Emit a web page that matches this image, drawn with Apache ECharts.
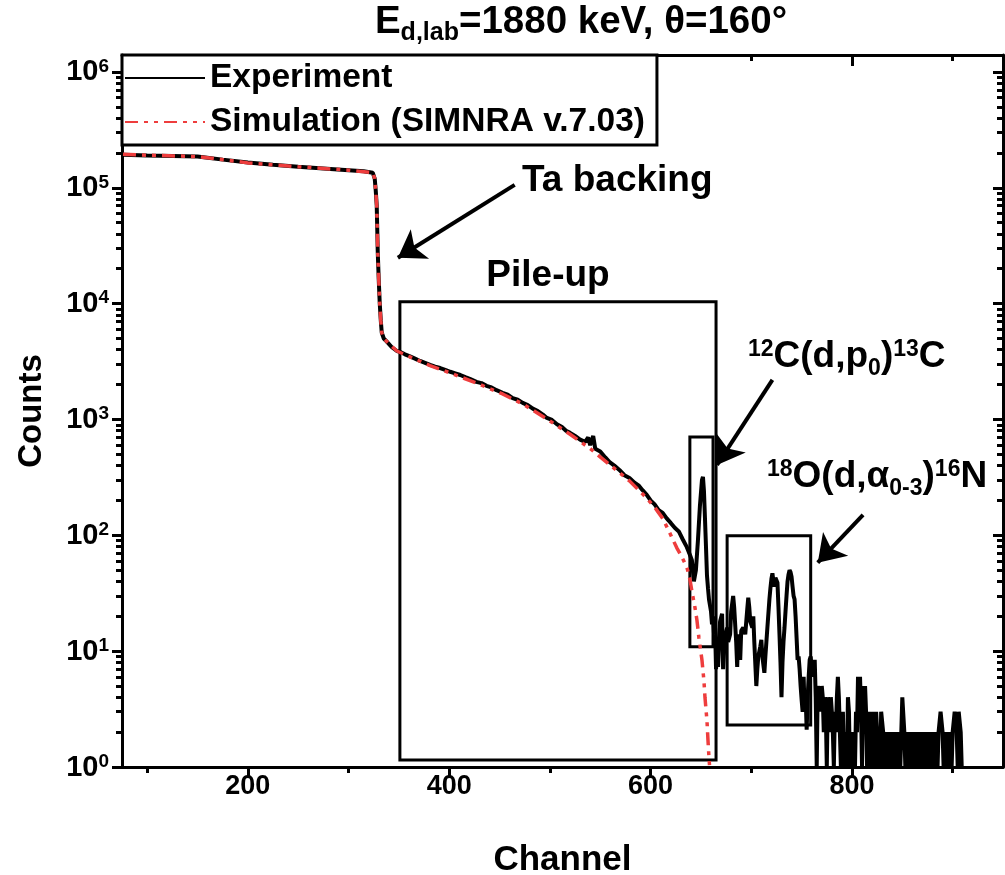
<!DOCTYPE html>
<html><head><meta charset="utf-8">
<script src="https://cdn.jsdelivr.net/npm/echarts@6/dist/echarts.min.js"></script>
<style>html,body{margin:0;padding:0;background:#fff}#c{width:1005px;height:875px}</style>
</head><body><div id="c"></div>
<script>
// ---------------- data ----------------
const expChannels = [
  76,100,125,150,175,200,225,250,275,300,315,324,326,327,328,329,330,331,332,333,335,338,343,348,
  351,356,361,366,371,376,381,386,391,396,401,406,411,416,421,427,432,437,442,447,453,458,463,468,473,478,483,488,493,497,
  502,507,512,516,520,525,530,535,538,540,543,545,550,555,559,564,569,574,579,584,588,592,596,600,604,608,612,616,620,624,628,632,636,639,
  641,643,645,647,649,651,652,653,654,655,656,657,658,660,661,662,663,664,665,666,667,668,669,671,672,673,674,676,677,679,680,682,683,685,686,687,689,690,692,694,696,697,698,699,701,702,703,705,706,707,709,710,711,713,714,715,716,718,719,720,721,722,723,724,725,726,727,728,729,730,731,732,733,734,735,736,737,738,739,740,741,742,743,744,745,746,747,748,749,750,751,752,753,754,755,756,757,758,759,760,761,762,763,764,
  765,766,767,768,769,770,771,772,773,774,775,776,777,778,779,780,781,782,783,784,785,786,787,788,789,790,791,792,793,794,795,796,797,798,799,800,
  801,802,803,804,805,806,807,808,809,810,811,812,813,814,815,816,817,818,819,820,821,822,823,824,825,826,827,828,829,830,831,832,833,834,835,836,837,838,839,840,
  841,842,843,844,845,846,847,848,849,850,851,852,853,854,855,856,857,858,859,860,861,862,863,864,865,866,867,868,869,870,871,872,873,874,875,876,877,878,879,880,
  881,882,883,884,885,886,887,888,889,890,891,892,893,894,895,896,897,898,899,900,901,902,903,904,905,906,907,908,909,910
];
const expCounts = [
  193000,190000,188000,186000,175000,165000,158000,152000,147000,142000,139000,135000,120000,95000,70000,28000,16000,10000,7200,5600,5000,4700,4200,3900,
  3840,3650,3500,3350,3200,3080,2960,2860,2780,2680,2580,2500,2420,2320,2230,2110,2060,1950,1890,1790,1700,1640,1530,1480,1390,1330,1240,1180,1100,1030,
  990,910,860,800,766,720,670,640,700,600,720,560,530,470,430,400,367,330,313,285,270,245,225,200,185,165,156,140,128,116,108,92,79,68,
  61,40,50,90,180,300,320,240,140,80,45,35,28,22,17,20,14,16,7,10,7.3,12,18,21,7,10,13,16,12,14,22,30,24,12,7.3,14,8.4,15,16,14,23,29,24,18,16,20,12,5,7,9,11,12.5,9,6.5,9,12,16,28,35,42,47,40,36,43,41,39,24,14,8,4,8,12,16,22,30,40,46,50,48,44,36,30,28,20,13,8.4,9,7,5,3.8,3,6,3,4,2.1,4,6,8.4,9,7,8,6,8.4,4,
  1,5,5,4,3,5,4,2,4,3,1,4,3,2,4,3,2,1,3,2,4,6,4,2,1,2,3,1,2,2,1,4,3,1,2,1,
  2,2,1,3,2,6,5,6,3,1,5,2,5,3,1,2,3,3,1,2,3,2,1,3,2,1,2,1,3,3,2,1,2,2,1,2,1,2,2,1,
  2,1,2,2,1,2,2,1,2,4,4,2,1,2,2,1,1,2,1,2,2,1,2,1,2,2,1,1,2,1,1,2,1,2,1,2,1,2,2,1,
  1,2,1,2,1,2,2,3,3,2,1,2,2,1,2,2,1,2,1,2,2,3,3,2,1,3,3,2,1,1
];
const simChannels = [76,100,150,200,250,300,324,326,327,328,329,330,331,332,333,335,338,348,360,381,401,427,453,473,497,520,540,559,579,596,604,612,619,626,631,636,639,641,644,646,648,651,653,654,656,657,658,659];
const simCounts = [195000,191000,186000,164000,152000,142000,135000,120000,95000,70000,28000,16000,10000,7200,5600,5000,4700,3900,3500,2920,2520,2060,1660,1360,1010,745,560,410,295,210,175,140,105,78,65,53,42,33,24,18.6,13,8.4,5.5,4,2.5,1.7,1.2,0.9];

const xMajorTicks = [200,400,600,800];
const xMinorTicks = [100,300,500,700,900];
const yMajorTicks = [1,10,100,1000,10000,100000,1000000];
const yMinorTicks = [2,3,4,5,6,7,8,9,20,30,40,50,60,70,80,90,200,300,400,500,600,700,800,900,
  2000,3000,4000,5000,6000,7000,8000,9000,20000,30000,40000,50000,60000,70000,80000,90000,
  200000,300000,400000,500000,600000,700000,800000,900000];

// annotation boxes [ch1, count1, ch2, count2]
const boxPileUp = [351, 10400, 665, 1.15];
const boxC12 = [639, 707, 662, 10.9];
const boxO18 = [676, 99, 759, 2.3];
// arrows [tailCh, tailCount, tipCh, tipCount]
const arrowTa = [465, 106000, 349, 24900];
const arrowC12 = [721, 2200, 666, 405];
const arrowO18 = [811, 150, 766, 58];

// ---------------- chart ----------------
const FONT = "'Liberation Sans', Arial, sans-serif";
const X_MIN = 75, X_MAX = 950, Y_MIN = 1, Y_MAX = 1.4e6;

const expData = expChannels.map((c, i) => [c, expCounts[i]]);
const simData = simChannels.map((c, i) => [c, simCounts[i]]);

const lineBlack = {show: true, onZero: false, lineStyle: {color: '#000', width: 3}};
const noLine = {show: false};

function tick(len, inside, values) {
  return {show: true, inside: inside, length: len, customValues: values, lineStyle: {color: '#000', width: 3}};
}
function yLabelFmt(v) {
  const e = Math.round(Math.log10(v));
  return '{b|10}{s|' + e + '}';
}

const chart = echarts.init(document.getElementById('c'), null, {renderer: 'canvas'});
const option = {
  animation: false,
  backgroundColor: '#fff',
  grid: {left: 122, right: 2, top: 55, bottom: 108, containLabel: false, outerBoundsMode: 'none'},
  legend: {
    orient: 'vertical', left: 122, top: 55,
    itemWidth: 80, itemHeight: 14, itemGap: 10,
    padding: [6, 12, 6, 2],
    borderColor: '#000', borderWidth: 3, backgroundColor: '#fff',
    itemStyle: {opacity: 0},
    textStyle: {fontSize: 33.5, fontWeight: 'bold', color: '#000', fontFamily: FONT},
    data: ['Experiment', 'Simulation (SIMNRA v.7.03)']
  },
  xAxis: [
    {type: 'value', min: X_MIN, max: X_MAX, position: 'bottom', axisLine: lineBlack,
     axisTick: tick(11, false, xMajorTicks), splitLine: {show: false},
     axisLabel: {customValues: xMajorTicks, fontSize: 27, fontWeight: 'bold', color: '#000', fontFamily: FONT, margin: 6},
     name: 'Channel', nameLocation: 'middle', nameGap: 76,
     nameTextStyle: {fontSize: 35, fontWeight: 'bold', color: '#000', fontFamily: FONT}},
    {type: 'value', min: X_MIN, max: X_MAX, position: 'bottom', axisLine: noLine,
     axisTick: tick(6, false, xMinorTicks), axisLabel: {show: false}, splitLine: {show: false}},
    {type: 'value', min: X_MIN, max: X_MAX, position: 'top', axisLine: lineBlack,
     axisTick: tick(11, true, xMajorTicks), axisLabel: {show: false}, splitLine: {show: false}},
    {type: 'value', min: X_MIN, max: X_MAX, position: 'top', axisLine: noLine,
     axisTick: tick(6, true, xMinorTicks), axisLabel: {show: false}, splitLine: {show: false}}
  ],
  yAxis: [
    {type: 'log', logBase: 10, min: Y_MIN, max: Y_MAX, position: 'left', axisLine: lineBlack,
     axisTick: tick(10, false, yMajorTicks), splitLine: {show: false},
     axisLabel: {customValues: yMajorTicks, formatter: yLabelFmt, margin: 13, color: '#000',
       rich: {
         b: {fontSize: 29, fontWeight: 'bold', color: '#000', fontFamily: FONT, lineHeight: 30, verticalAlign: 'bottom'},
         s: {fontSize: 19, fontWeight: 'bold', color: '#000', fontFamily: FONT, lineHeight: 18, verticalAlign: 'top'}
       }},
     name: 'Counts', nameLocation: 'middle', nameGap: 74, nameRotate: 90,
     nameTextStyle: {fontSize: 33, fontWeight: 'bold', color: '#000', fontFamily: FONT}},
    {type: 'log', logBase: 10, min: Y_MIN, max: Y_MAX, position: 'left', axisLine: noLine,
     axisTick: tick(6, false, yMinorTicks), axisLabel: {show: false}, splitLine: {show: false}},
    {type: 'log', logBase: 10, min: Y_MIN, max: Y_MAX, position: 'right', axisLine: lineBlack,
     axisTick: tick(10, true, yMajorTicks), axisLabel: {show: false}, splitLine: {show: false}},
    {type: 'log', logBase: 10, min: Y_MIN, max: Y_MAX, position: 'right', axisLine: noLine,
     axisTick: tick(6, true, yMinorTicks), axisLabel: {show: false}, splitLine: {show: false}}
  ],
  series: [
    {
      type: 'line', name: 'Experiment', data: expData, xAxisIndex: 0, yAxisIndex: 0,
      symbol: 'none', showSymbol: false, clip: true, z: 2,
      lineStyle: {color: '#000', width: 4}, itemStyle: {color: '#000'},
      markArea: {
        silent: true,
        itemStyle: {color: 'rgba(0,0,0,0)', borderColor: '#000', borderWidth: 3},
        label: {show: false},
        data: [boxPileUp, boxC12, boxO18].map(b => [{coord: [b[0], b[1]]}, {coord: [b[2], b[3]]}])
      },
      markLine: {
        silent: true, symbol: ['none', 'arrow'], symbolSize: 26,
        lineStyle: {color: '#000', width: 4, type: 'solid'},
        itemStyle: {color: '#000'},
        label: {show: false},
        data: [arrowTa, arrowC12, arrowO18].map(a => [{coord: [a[0], a[1]]}, {coord: [a[2], a[3]]}])
      }
    },
    {
      type: 'line', name: 'Simulation (SIMNRA v.7.03)', data: simData, xAxisIndex: 0, yAxisIndex: 0,
      symbol: 'none', showSymbol: false, clip: true, z: 3,
      lineStyle: {color: '#ee3d3d', width: 3.5, type: [13, 6, 4, 6, 4, 6]}, itemStyle: {color: '#ee3d3d'}
    }
  ],
  graphic: [
    {type: 'text', x: 581, y: 22, style: {
      text: '{m|E}{s|d,lab}{m|=1880 keV, θ=160°}', align: 'center', verticalAlign: 'middle',
      rich: {
        m: {fontSize: 38.5, fontWeight: 'bold', fill: '#000', fontFamily: FONT, lineHeight: 39, verticalAlign: 'top'},
        s: {fontSize: 25, fontWeight: 'bold', fill: '#000', fontFamily: FONT, lineHeight: 25, padding: [18, 0, 0, 0], verticalAlign: 'top'}
      }}},
    {type: 'text', x: 522, y: 181, style: {text: 'Ta backing', align: 'left', verticalAlign: 'middle',
      font: 'bold 37px ' + FONT, fill: '#000'}},
    {type: 'text', x: 548, y: 276, style: {text: 'Pile-up', align: 'center', verticalAlign: 'middle',
      font: 'bold 37px ' + FONT, fill: '#000'}},
    {type: 'text', x: 748, y: 357, style: {
      text: '{p|12}{m|C(d,p}{d|0}{m|)}{p|13}{m|C}', align: 'left', verticalAlign: 'middle',
      rich: {
        m: {fontSize: 37, fontWeight: 'bold', fill: '#000', fontFamily: FONT, lineHeight: 38, verticalAlign: 'top'},
        p: {fontSize: 23, fontWeight: 'bold', fill: '#000', fontFamily: FONT, lineHeight: 23, verticalAlign: 'top'},
        d: {fontSize: 23, fontWeight: 'bold', fill: '#000', fontFamily: FONT, lineHeight: 23, padding: [19, 0, 0, 0], verticalAlign: 'top'}
      }}},
    {type: 'text', x: 767, y: 477, style: {
      text: '{p|18}{m|O(d,α}{d|0-3}{m|)}{p|16}{m|N}', align: 'left', verticalAlign: 'middle',
      rich: {
        m: {fontSize: 37, fontWeight: 'bold', fill: '#000', fontFamily: FONT, lineHeight: 38, verticalAlign: 'top'},
        p: {fontSize: 23, fontWeight: 'bold', fill: '#000', fontFamily: FONT, lineHeight: 23, verticalAlign: 'top'},
        d: {fontSize: 23, fontWeight: 'bold', fill: '#000', fontFamily: FONT, lineHeight: 23, padding: [19, 0, 0, 0], verticalAlign: 'top'}
      }}}
  ]
};
chart.setOption(option);
</script>
</body></html>
